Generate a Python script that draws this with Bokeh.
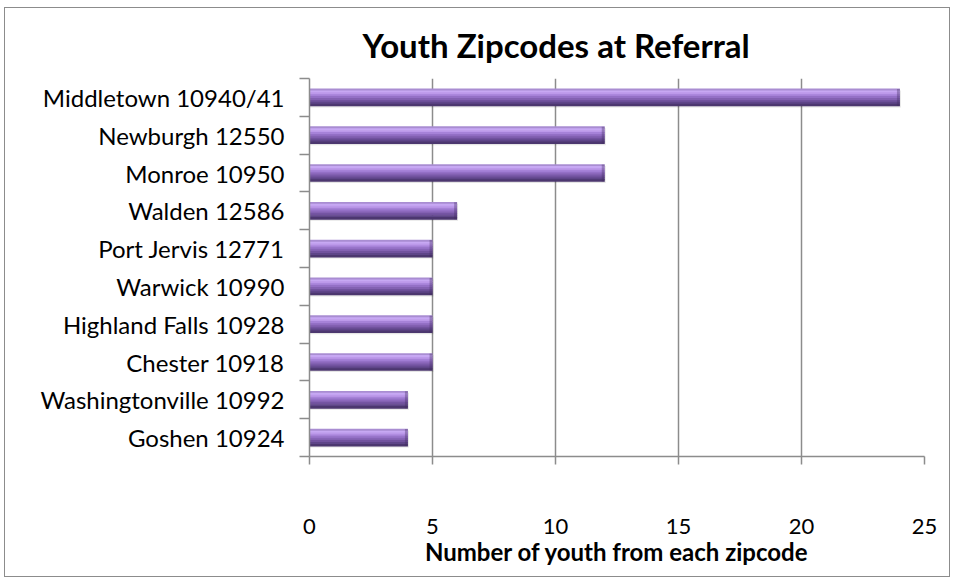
from bokeh.plotting import figure
from bokeh.models import (ColumnDataSource, Range1d, LinearAxis, FixedTicker)
from bokeh.transform import dodge
from bokeh.embed import file_html
from bokeh.resources import INLINE

# ---- data ----
places = ["Middletown 10940/41", "Newburgh 12550", "Monroe 10950", "Walden 12586",
          "Port Jervis 12771", "Warwick 10990", "Highland Falls 10928",
          "Chester 10918", "Washingtonville 10992", "Goshen 10924"]
youth = [24, 12, 12, 6, 5, 5, 5, 5, 4, 4]
x_ticks = [0, 5, 10, 15, 20, 25]

title_text = "Youth Zipcodes at Referral"
x_title = "Number of youth from each zipcode"

FONT = "Lato"
GRID = "#8c8c8c"

N = len(places)
ypos = [N - 1 - i + 0.5 for i in range(N)]   # first category at top
src = ColumnDataSource(dict(place=places, youth=youth, y=ypos,
                            cap=[v - 0.12 for v in youth]))

W, H = 946, 570
p = figure(width=W, height=H, output_backend="svg", toolbar_location=None,
           y_range=Range1d(0, N), x_range=Range1d(0, 25),
           y_axis_location=None, x_axis_location=None,
           min_border_left=304, min_border_right=27,
           min_border_top=68, min_border_bottom=122)
p.outline_line_color = None
p.background_fill_color = "white"
p.border_fill_color = "white"
p.styles = {"border": "1px solid #8c8c8c", "margin": "7px 0 0 4px"}

p.title.text = title_text
p.title.text_font = FONT
p.title.text_font_size = "33px"
p.title.text_font_style = "bold"
p.title.text_color = "black"
p.title.align = "left"
p.title.offset = 53
p.title.standoff = 28

p.xgrid.grid_line_color = GRID
p.xgrid.grid_line_width = 1.5
p.ygrid.grid_line_color = None

# ---- bars: stacked thin strips to imitate cylinder shading ----
BH = 0.45
p.hbar(y=dodge("y", -0.04), left=0, right=dodge("youth", 0.04), height=BH,
       source=src, fill_color="black", fill_alpha=0.10, line_color=None)
shades = ["#a98dd2", "#c7a8f3", "#bc99ea", "#a682d8", "#9470c6",
          "#8361b2", "#71529e", "#5e4588", "#4c376f"]
n = len(shades)
sh = BH / n
for i, c in enumerate(shades):
    off = BH / 2 - sh * (i + 0.5)
    p.hbar(y=dodge("y", off), left=0, right="youth",
           height=sh * 1.35, source=src, fill_color=c, line_color=None)
p.hbar(y="y", left="cap", right="youth", height=BH, source=src,
       fill_color="#3e2a5c", fill_alpha=0.35, line_color=None)

# ---- x axis ----
xa = LinearAxis(ticker=FixedTicker(ticks=x_ticks))
xa.axis_line_color = GRID
xa.axis_line_width = 1.5
xa.major_tick_line_color = GRID
xa.major_tick_line_width = 1.5
xa.major_tick_out = 8
xa.major_tick_in = 0
xa.minor_tick_line_color = None
xa.major_label_text_font = FONT
xa.major_label_text_font_size = "22px"
xa.major_label_text_color = "black"
xa.major_label_standoff = 54
xa.axis_label = x_title
xa.axis_label_text_font = FONT
xa.axis_label_text_font_size = "24px"
xa.axis_label_text_font_style = "bold"
xa.axis_label_text_color = "black"
xa.axis_label_standoff = 0
p.add_layout(xa, "below")
p.xgrid.ticker = xa.ticker

# ---- y axis: names at bar centres, tick marks between categories ----
ya = LinearAxis(ticker=FixedTicker(ticks=ypos, minor_ticks=list(range(N + 1))))
ya.major_label_overrides = {yv: name for yv, name in zip(ypos, places)}
ya.axis_line_color = GRID
ya.axis_line_width = 1.5
ya.major_tick_line_color = None
ya.major_tick_out = 0
ya.major_tick_in = 0
ya.minor_tick_line_color = GRID
ya.minor_tick_line_width = 1.5
ya.minor_tick_out = 10
ya.minor_tick_in = 0
ya.major_label_text_font = FONT
ya.major_label_text_font_size = "24px"
ya.major_label_text_color = "black"
ya.major_label_standoff = 15
p.add_layout(ya, "left")

open("out.html", "w").write(file_html(p, INLINE))
